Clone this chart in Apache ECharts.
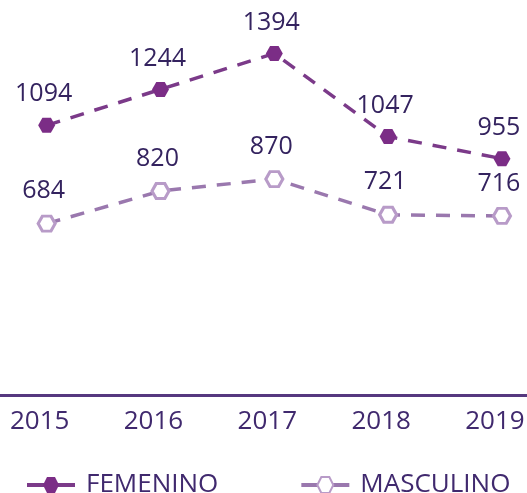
<!DOCTYPE html>
<html>
<head>
<meta charset="utf-8">
<script src="https://cdn.jsdelivr.net/npm/echarts@6/dist/echarts.min.js"></script>
<style>
  html, body { margin: 0; padding: 0; background: #ffffff; }
  #main { width: 527px; height: 493px; }
</style>
</head>
<body>
<div id="main"></div>
<script>
var years = [2015, 2016, 2017, 2018, 2019]
var femenino = [1094, 1244, 1394, 1047, 955]
var masculino = [684, 820, 870, 721, 716]
var seriesNames = ['FEMENINO', 'MASCULINO']

// hexagon, points to left and right
var hexagon = 'path://M0,5 L3,0 L9,0 L12,5 L9,10 L3,10 Z'
var textColor = '#34235f'

function pairs (values) {
  return years.map(function (y, i) { return [y, values[i]] })
}

var myChart = echarts.init(document.getElementById('main'))
myChart.setOption({
  animation: false,
  grid: { left: 0, right: 0, top: 52, bottom: 98, outerBoundsMode: 'none', containLabel: false },
  xAxis: {
    type: 'value',
    min: 2014.59,
    max: 2019.22,
    minInterval: 1,
    splitNumber: 5,
    splitLine: { show: false },
    axisLine: { show: true, onZero: false, lineStyle: { color: '#56387f', width: 3 } },
    axisTick: { show: false },
    axisLabel: {
      color: '#40296e',
      fontFamily: 'Open Sans',
      fontSize: 26,
      margin: 14,
      padding: [0, 14, 0, 0],
      showMinLabel: false,
      showMaxLabel: false,
      formatter: function (v) { return Number.isInteger(v) ? String(v) : '' }
    }
  },
  yAxis: {
    type: 'value',
    min: -31,
    max: 1400,
    show: false
  },
  legend: {
    data: seriesNames,
    left: 20,
    top: 467,
    itemWidth: 48,
    itemHeight: 20,
    itemGap: 81,
    lineStyle: { type: 'solid', width: 4 },
    textStyle: {
      color: '#40296e',
      fontFamily: 'Open Sans',
      fontSize: 26,
      padding: [0, 0, 0, 6]
    }
  },
  series: [
    {
      name: seriesNames[0],
      type: 'line',
      data: pairs(femenino),
      symbol: hexagon,
      symbolSize: [17, 15],
      itemStyle: { color: '#7b2d86' },
      lineStyle: { color: '#7b3a89', width: 3.5, type: [14, 11] },
      label: {
        show: true,
        position: 'top',
        distance: 11,
        offset: [-3, 0],
        color: textColor,
        fontFamily: 'Open Sans',
        fontSize: 25,
        formatter: function (p) { return p.value[1] }
      }
    },
    {
      name: seriesNames[1],
      type: 'line',
      data: pairs(masculino),
      symbol: hexagon,
      symbolSize: [17, 15],
      itemStyle: { color: '#ffffff', borderColor: '#b89bc8', borderWidth: 3 },
      lineStyle: { color: '#9a78ae', width: 3.5, type: [14, 11] },
      label: {
        show: true,
        position: 'top',
        distance: 11,
        offset: [-3, 0],
        color: textColor,
        fontFamily: 'Open Sans',
        fontSize: 25,
        formatter: function (p) { return p.value[1] }
      }
    }
  ]
})
</script>
</body>
</html>
